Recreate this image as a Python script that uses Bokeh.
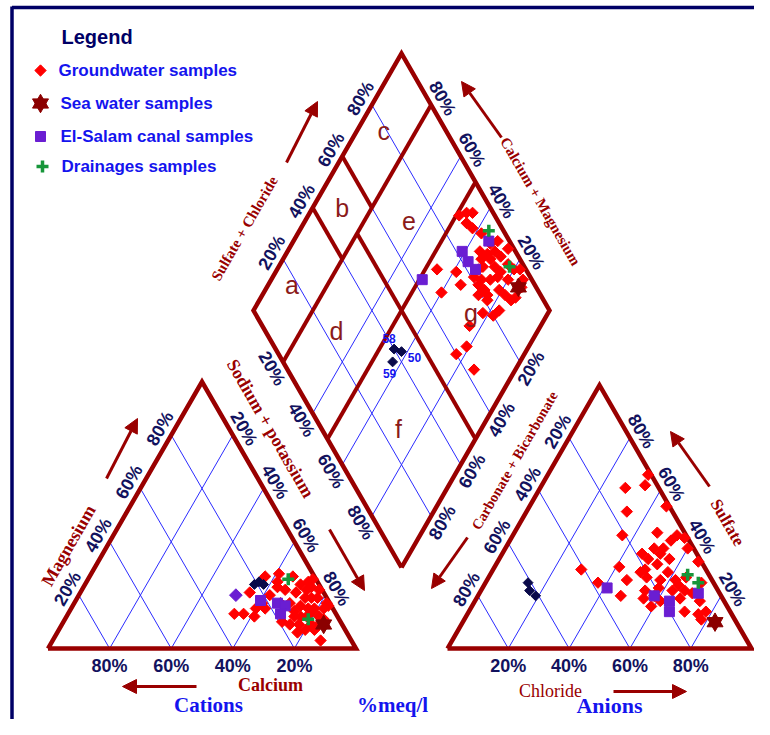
import numpy as np
from bokeh.plotting import figure
from bokeh.models import Range1d, Arrow, NormalHead
from bokeh.core.properties import value
from bokeh.embed import file_html
from bokeh.resources import INLINE

# ---------------- data (% of meq/l) ----------------
pct_ticks = [20, 40, 60, 80]
pct_labels = ["20%", "40%", "60%", "80%"]
legend_labels = ["Groundwater samples", "Sea water samples",
                 "El-Salam canal samples", "Drainages samples"]

# Cation triangle: Calcium, Magnesium, Sodium + potassium
gw_ca = [16, 11, 7, 13, 18, 24, 25, 33, 30, 27, 14, 6, 3, 1, 3, 1, 9, 7, 5, 3, 1, 13, 10, 8,
         6, 3, 1, 14, 12, 10, 6, 17, 14, 10, 9, 16, 13, 10, 19, 16, 22, 22, 7, 13, 5, 12, 5, 10]
gw_mg = [27, 28, 27, 25, 20, 21, 15, 13, 13, 12, 23, 24, 25, 26, 23, 22, 21, 19, 19, 19, 17, 17, 16, 15,
         15, 15, 16, 12, 12, 12, 12, 9, 9, 9, 8, 6, 7, 3, 10, 17, 17, 15, 14, 14, 11, 22, 22, 7]
gw_nak = [57, 61, 66, 62, 62, 55, 60, 54, 57, 61, 63, 70, 72, 73, 74, 77, 70, 74, 76, 78, 82, 70, 74, 77,
          79, 82, 83, 74, 76, 78, 82, 74, 77, 81, 83, 78, 80, 87, 71, 67, 61, 63, 79, 73, 84, 66, 73, 83]
canal_ca = [22, 17, 15, 18]
canal_mg = [18, 17, 16, 13]
canal_nak = [60, 66, 69, 69]
canal_extra_ca, canal_extra_mg, canal_extra_nak = [29], [20], [51]
drain_ca, drain_mg, drain_nak = [9, 10], [26, 11], [65, 79]
sea_ca, sea_mg, sea_nak = [6], [9], [85]
sel_ids = ["58", "50", "59"]
sel_ca, sel_mg, sel_nak = [21, 18, 19], [24, 24, 25], [55, 58, 56]

# Anion triangle: Carbonate + Bicarbonate, Sulfate, Chloride
gw_hco3 = [1, 11, 4, 15, 1, 21, 9, 3, 6, 1, 2, 18, 13, 10, 12, 17, 10, 1, 41, 28, 20, 15, 13, 22,
           28, 38, 21, 17, 12, 8, 4, 24, 19, 15, 12, 11, 33, 26, 22, 21, 14, 9, 8, 25, 15, 11, 8, 11]
gw_so4 = [66, 61, 62, 52, 54, 43, 44, 43, 41, 42, 38, 36, 38, 38, 36, 34, 34, 33, 30, 31, 30, 32, 29, 29,
          26, 25, 27, 26, 26, 27, 25, 22, 23, 22, 24, 22, 20, 19, 20, 18, 19, 21, 18, 16, 14, 13, 14, 11]
gw_cl = [33, 28, 34, 33, 45, 36, 47, 54, 53, 57, 60, 46, 49, 52, 52, 49, 56, 66, 29, 41, 50, 53, 58, 49,
         46, 37, 52, 57, 62, 65, 71, 54, 58, 63, 64, 67, 47, 55, 58, 61, 67, 70, 74, 59, 71, 76, 78, 78]
canal_hco3 = [36, 22, 18, 20, 7]
canal_so4 = [23, 20, 18, 14, 21]
canal_cl = [41, 58, 64, 66, 72]
drain_hco3, drain_so4, drain_cl = [7, 5], [28, 25], [65, 70]
sea_hco3, sea_so4, sea_cl = [7], [10], [83]
sel_hco3, sel_so4, sel_cl = [61, 62, 61], [25, 22, 20], [14, 16, 19]

# Diamond field: Sulfate + Chloride, Calcium + Magnesium
gw_so4cl = [88, 91, 93, 89, 90, 92, 93, 96, 98, 88, 90, 93, 87, 90, 94, 95, 86, 90, 96, 98, 84, 91, 81, 83,
            86, 89, 92, 97, 95, 81, 82, 82, 79, 87, 88, 89, 91, 81, 75, 70, 76, 67, 77, 80, 83, 70, 65, 60, 63]
gw_camg = [49, 47, 45, 45, 42, 38, 33, 31, 26, 35, 32, 30, 33, 30, 27, 23, 31, 27, 20, 18, 32, 24, 32, 29,
           26, 24, 20, 15, 14, 29, 26, 24, 27, 21, 18, 15, 14, 23, 35, 46, 39, 40, 22, 18, 17, 24, 21, 23, 14]
canal_so4cl = [63, 82, 82, 83, 93]
canal_camg = [49, 41, 37, 33, 34]
drain_so4cl, drain_camg = [95, 95], [36, 22]
sea_so4cl, sea_camg = [94], [15]
sel_so4cl, sel_camg = [40, 42, 37], [45, 42, 43]

# zone letters (diamond coordinates: SO4+Cl, Ca+Mg)
zone_names = ["a", "b", "c", "d", "e", "f", "g"]
zone_so4cl = [18, 50, 79, 24, 70, 26, 73]
zone_camg = [92, 90, 91, 68, 65, 28, 26]

# ---------------- geometry ----------------
H = np.sqrt(3) / 2
CAT_X0, CAT_Y0, CAT_S = 47.5, 648.0, 308.0
AN_X0, AN_Y0, AN_S = 447.0, 648.0, 304.0
DIA_BX, DIA_BY, DIA_HW, DIA_HH = 401.0, 567.0, 148.0, 257.0


def arr(v):
    return np.asarray(v, dtype=float)


def cat_xy(ca, mg, nak):
    ca, mg, nak = arr(ca), arr(mg), arr(nak)
    t = ca + mg + nak
    m, n = mg / t, nak / t
    return CAT_X0 + CAT_S * (n + 0.5 * m), CAT_Y0 - CAT_S * H * m


def an_xy(hco3, so4, cl):
    hco3, so4, cl = arr(hco3), arr(so4), arr(cl)
    t = hco3 + so4 + cl
    s, c = so4 / t, cl / t
    return AN_X0 + AN_S * (c + 0.5 * s), AN_Y0 - AN_S * H * s


def dia_xy(so4cl, camg):
    a, c = arr(so4cl) / 100.0, arr(camg) / 100.0
    return DIA_BX + DIA_HW * (a - c), DIA_BY - DIA_HH * (a + c)


DR = "#990000"
GRID = "#2b2bff"
TICK = "#12125e"
RED = "#ff0000"
PURPLE = "#6a1ed2"
GREEN = "#17963a"
SEA = "#8b0000"
NAVY = "#0a0a4a"
BLUE = "#1414ee"

SANS = "Liberation Sans"
SERIF = "Liberation Serif"
TICKF = "Liberation Sans"

p = figure(width=754, height=719, output_backend="svg", toolbar_location=None,
           x_range=Range1d(0, 754), y_range=Range1d(719, 0), min_border=0)
p.axis.visible = False
p.grid.visible = False
p.outline_line_color = None
p.background_fill_color = "white"
p.border_fill_color = "white"

# page frame
p.line([11.5, 11.5], [6, 719], line_color="#000066", line_width=3.5)
p.line([11.5, 754], [7, 7], line_color="#000066", line_width=3.5)


def seg_lines(pairs, color, width):
    xs, ys = [], []
    for (x0, y0), (x1, y1) in pairs:
        xs.append([float(x0), float(x1)])
        ys.append([float(y0), float(y1)])
    p.multi_line(xs, ys, line_color=color, line_width=width)


# ---- blue grids ----
pairs = []
for v in pct_ticks:
    pairs.append((cat_xy(100 - v, 0, v), cat_xy(0, 100 - v, v)))      # const Na+K
    pairs.append((cat_xy(v, 0, 100 - v), cat_xy(v, 100 - v, 0)))      # const Ca
    pairs.append((an_xy(100 - v, 0, v), an_xy(0, 100 - v, v)))        # const Cl
    pairs.append((an_xy(v, 0, 100 - v), an_xy(v, 100 - v, 0)))        # const HCO3
    pairs.append((dia_xy(v, 0), dia_xy(v, 100)))
    pairs.append((dia_xy(0, v), dia_xy(100, v)))
seg_lines(pairs, GRID, 1)

# ---- thick outlines ----
cx, cy = cat_xy([100, 0, 0, 100], [0, 0, 100, 0], [0, 100, 0, 0])
p.line(cx, cy, line_color=DR, line_width=4.5, line_join="miter")
ax, ay = an_xy([100, 0, 0, 100], [0, 0, 100, 0], [0, 100, 0, 0])
p.line(ax, ay, line_color=DR, line_width=4.5, line_join="miter")
dx, dy = dia_xy([0, 100, 100, 0, 0], [0, 0, 100, 100, 0])
p.line(dx, dy, line_color=DR, line_width=4.5, line_join="miter")
zone_pairs = [
    (dia_xy(0, 80), dia_xy(100, 80)),
    (dia_xy(0, 50), dia_xy(100, 50)),
    (dia_xy(40, 80), dia_xy(40, 100)),
    (dia_xy(60, 80), dia_xy(60, 100)),
    (dia_xy(50, 0), dia_xy(50, 80)),
]
seg_lines(zone_pairs, DR, 4)


def txt(xs, ys, labels, size, color, font, style="bold", angle=0.0, align="center"):
    p.text(x=list(np.atleast_1d(xs)), y=list(np.atleast_1d(ys)), text=list(labels), angle=angle,
           text_font=value(font), text_font_size=value(f"{size}px"), text_font_style=style,
           text_color=color, text_align=align, text_baseline="middle")


# ---- percentage tick labels ----
A60 = np.radians(60)
OFF = 13.0
FS = 18
t = arr(pct_ticks)
z = np.zeros_like(t)
# cation bottom (calcium)
x, y = cat_xy(t, z, 100 - t)
txt(x, y + 17, pct_labels, FS, TICK, TICKF)
# cation left (magnesium)
x, y = cat_xy(100 - t, t, z)
txt(x - OFF * H, y - OFF * 0.5, pct_labels, FS, TICK, TICKF, angle=A60)
# cation right (sodium + potassium)
x, y = cat_xy(z, 100 - t, t)
txt(x + OFF * H, y - OFF * 0.5, pct_labels, FS, TICK, TICKF, angle=-A60)
# anion bottom (chloride)
x, y = an_xy(100 - t, z, t)
txt(x, y + 17, pct_labels, FS, TICK, TICKF)
# anion left (carbonate + bicarbonate)
x, y = an_xy(t, 100 - t, z)
txt(x - OFF * H, y - OFF * 0.5, pct_labels, FS, TICK, TICKF, angle=A60)
# anion right (sulfate)
x, y = an_xy(z, t, 100 - t)
txt(x + OFF * H, y - OFF * 0.5, pct_labels, FS, TICK, TICKF, angle=-A60)
# diamond upper-left (sulfate + chloride)
x, y = dia_xy(t, z + 100)
txt(x - OFF * H, y - OFF * 0.5, pct_labels, FS, TICK, TICKF, angle=A60)
# diamond upper-right (calcium + magnesium)
x, y = dia_xy(z + 100, t)
txt(x + OFF * H, y - OFF * 0.5, pct_labels, FS, TICK, TICKF, angle=-A60)
# diamond lower-left (sodium + potassium)
x, y = dia_xy(z, 100 - t)
txt(x - OFF * H, y + OFF * 0.5, pct_labels, FS, TICK, TICKF, angle=-A60)
# diamond lower-right (carbonate + bicarbonate)
x, y = dia_xy(100 - t, z)
txt(x + OFF * H, y + OFF * 0.5, pct_labels, FS, TICK, TICKF, angle=A60)

# ---- axis titles ----
txt([68], [545], ["Magnesium"], 18, DR, SERIF, angle=A60)
txt([270], [428], ["Sodium + potassium"], 18, DR, SERIF, angle=-A60)
txt([244], [228], ["Sulfate + Chloride"], 15, DR, SERIF, angle=A60)
txt([540], [201], ["Calcium + Magnesium"], 15, DR, SERIF, angle=-A60)
txt([514], [460], ["Carbonate + Bicarbonate"], 14.5, DR, SERIF, angle=A60)
txt([727], [522], ["Sulfate"], 17, DR, SERIF, angle=-A60)
txt([270], [684], ["Calcium"], 18, DR, SERIF)
txt([550], [690], ["Chloride"], 18, DR, SERIF, style="normal")
txt([208], [704], ["Cations"], 21, BLUE, SERIF)
txt([392], [704], ["%meq/l"], 21, BLUE, SERIF)
txt([609], [705], ["Anions"], 22, BLUE, SERIF)

# ---- arrows ----
for (xs0, ys0, xe, ye) in [(106, 478, 137, 418), (329, 529, 364, 590), (196, 686, 122, 686),
                           (286, 162, 317, 101), (501, 137, 461, 81), (467, 537, 431, 588),
                           (709, 486, 670, 431), (613, 691, 686, 691)]:
    p.add_layout(Arrow(end=NormalHead(size=14, fill_color=DR, line_color=DR),
                       x_start=xs0, y_start=ys0, x_end=xe, y_end=ye,
                       line_color=DR, line_width=3))


# ---- markers ----
def draw(x, y, kind):
    if kind == "gw":
        p.scatter(x, y, marker="square", angle=np.pi / 4, size=8, fill_color=RED, line_color=RED)
    elif kind == "canal":
        p.scatter(x, y, marker="square", size=10, fill_color=PURPLE, line_color=PURPLE)
    elif kind == "canal_d":
        p.scatter(x, y, marker="square", angle=np.pi / 4, size=9, fill_color=PURPLE, line_color=PURPLE)
    elif kind == "drain":
        p.scatter(x, y, marker="cross", size=12, line_width=3.5, line_color=GREEN)
    elif kind == "sea":
        p.scatter(x, y, marker="triangle", size=16, fill_color=SEA, line_color=SEA)
        p.scatter(x, y, marker="inverted_triangle", size=16, fill_color=SEA, line_color=SEA)
    elif kind == "sel":
        p.scatter(x, y, marker="square", angle=np.pi / 4, size=7, fill_color=NAVY, line_color=NAVY)


# cation
draw(*cat_xy(gw_ca, gw_mg, gw_nak), "gw")
draw(*cat_xy(canal_ca, canal_mg, canal_nak), "canal")
draw(*cat_xy(canal_extra_ca, canal_extra_mg, canal_extra_nak), "canal_d")
draw(*cat_xy(sel_ca, sel_mg, sel_nak), "sel")
draw(*cat_xy(drain_ca, drain_mg, drain_nak), "drain")
draw(*cat_xy(sea_ca, sea_mg, sea_nak), "sea")
# anion
draw(*an_xy(gw_hco3, gw_so4, gw_cl), "gw")
draw(*an_xy(canal_hco3, canal_so4, canal_cl), "canal")
draw(*an_xy(sel_hco3, sel_so4, sel_cl), "sel")
draw(*an_xy(drain_hco3, drain_so4, drain_cl), "drain")
draw(*an_xy(sea_hco3, sea_so4, sea_cl), "sea")
# diamond
draw(*dia_xy(gw_so4cl, gw_camg), "gw")
draw(*dia_xy(canal_so4cl, canal_camg), "canal")
draw(*dia_xy(drain_so4cl, drain_camg), "drain")
draw(*dia_xy(sea_so4cl, sea_camg), "sea")
sx, sy = dia_xy(sel_so4cl, sel_camg)
draw(sx, sy, "sel")
p.text(x=list(sx), y=list(sy), text=sel_ids, x_offset=[-5, 13, -3], y_offset=[-11, 6, 12],
       text_font=value(SANS), text_font_size=value("12px"), text_font_style="bold",
       text_color=BLUE, text_align="center", text_baseline="middle")

# ---- zone letters (on top of the markers) ----
zx, zy = dia_xy(zone_so4cl, zone_camg)
p.text(x=zx, y=zy, text=zone_names, text_font=value(SANS), text_font_size=value("25px"),
       text_color="#8b1a1a", text_align="center", text_baseline="middle")

# ---- legend ----
txt([61], [36], ["Legend"], 20, "#000066", SANS, align="left")
leg_y = [70, 103, 136, 166]
draw([40], [leg_y[0]], "gw")
draw([40], [leg_y[1]], "sea")
draw([40], [leg_y[2]], "canal")
draw([42], [leg_y[3]], "drain")
txt([58, 60, 60, 61], leg_y, legend_labels, 17, BLUE, SANS, align="left")

open("out.html", "w").write(file_html(p, INLINE))
